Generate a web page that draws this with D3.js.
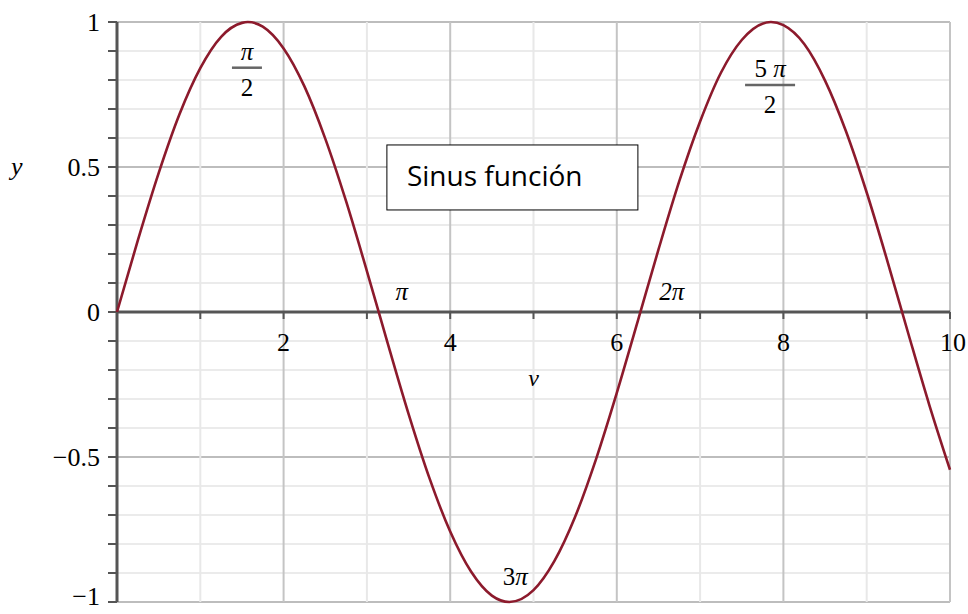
<!DOCTYPE html>
<html>
<head>
<meta charset="utf-8">
<script src="https://cdn.jsdelivr.net/npm/d3@7"></script>
<style>
  body { margin: 0; background: #fff; }
  svg { display: block; }
</style>
</head>
<body>
<div id="chart"></div>
<script>
// values (v, y)
const vValues = [0, 0.25, 0.5, 0.75, 1, 1.25, 1.5, 1.57, 1.75, 2, 2.25, 2.5, 2.75, 3, 3.25, 3.5, 3.75, 4, 4.25, 4.5, 4.71, 5, 5.25, 5.5, 5.75, 6, 6.25, 6.5, 6.75, 7, 7.25, 7.5, 7.85, 8, 8.25, 8.5, 8.75, 9, 9.25, 9.5, 9.75, 10];
const yValues = [0, 0.247, 0.479, 0.682, 0.841, 0.949, 0.997, 1.0, 0.984, 0.909, 0.778, 0.598, 0.382, 0.141, -0.108, -0.351, -0.572, -0.757, -0.895, -0.978, -1.0, -0.959, -0.859, -0.706, -0.508, -0.279, -0.033, 0.215, 0.451, 0.657, 0.825, 0.938, 1.0, 0.989, 0.924, 0.798, 0.624, 0.412, 0.174, -0.075, -0.319, -0.544];
const xTicks = [2, 4, 6, 8, 10];
const yTicks = [-1, -0.5, 0, 0.5, 1];
const yTickLabels = ["\u22121", "\u22120.5", "0", "0.5", "1"];
// annotations: [v, y, upright part, italic part]
const simpleLabels = [[3.42, 0.04, "", "\u03c0"], [6.66, 0.04, "", "2\u03c0"], [4.78, -0.94, "3", "\u03c0"]];
const fractionLabels = [[1.56, 0.87, "", "\u03c0", "2"], [7.84, 0.81, "5 ", "\u03c0", "2"]];

const margin = { top: 22, right: 18, bottom: 12, left: 117 };
const width = 968 - margin.left - margin.right;
const height = 614 - margin.top - margin.bottom;

const svg = d3.select("#chart")
    .append("svg")
    .attr("width", 968)
    .attr("height", 614)
    .append("g")
    .attr("transform", `translate(${margin.left},${margin.top})`);

const x = d3.scaleLinear().domain([0, 10]).range([0, width]);
const y = d3.scaleLinear().domain([-1, 1]).range([height, 0]);

const serif = "'Liberation Serif', 'Times New Roman', serif";

// grid
const grid = svg.append("g");
grid.selectAll(".ygrid")
    .data(d3.range(-10, 11).map(d => d / 10))
    .enter().append("line")
    .attr("x1", 0).attr("x2", width)
    .attr("y1", d => y(d)).attr("y2", d => y(d))
    .attr("stroke", d => Math.abs(Math.round(d * 10)) % 5 === 0 ? "#bdbdbd" : "#ebebeb")
    .attr("stroke-width", 2);
grid.selectAll(".xgrid")
    .data(d3.range(1, 11))
    .enter().append("line")
    .attr("x1", d => x(d)).attr("x2", d => x(d))
    .attr("y1", 0).attr("y2", height)
    .attr("stroke", d => d % 2 === 0 ? "#c4c4c4" : "#e8e8e8")
    .attr("stroke-width", 2);

// axes
svg.append("line")
    .attr("x1", 0).attr("x2", 0).attr("y1", 0).attr("y2", height)
    .attr("stroke", "#555").attr("stroke-width", 3);
svg.append("line")
    .attr("x1", 0).attr("x2", width).attr("y1", y(0)).attr("y2", y(0))
    .attr("stroke", "#555").attr("stroke-width", 3);

svg.selectAll(".ytick")
    .data(d3.range(-10, 11).map(d => d / 10))
    .enter().append("line")
    .attr("x1", -9).attr("x2", 0)
    .attr("y1", d => y(d)).attr("y2", d => y(d))
    .attr("stroke", "#555").attr("stroke-width", 2);
svg.selectAll(".xtick")
    .data(d3.range(1, 11))
    .enter().append("line")
    .attr("x1", d => x(d)).attr("x2", d => x(d))
    .attr("y1", y(0)).attr("y2", y(0) + 7)
    .attr("stroke", "#555").attr("stroke-width", 2);

// tick labels (bottom one nudged up so it stays inside the page)
svg.selectAll(".ylab")
    .data(yTicks)
    .enter().append("text")
    .attr("x", -17)
    .attr("y", d => y(d) - (d === -1 ? 6 : 0))
    .attr("dy", "0.35em")
    .attr("text-anchor", "end")
    .style("font-family", serif)
    .style("font-size", "26px")
    .text((d, i) => yTickLabels[i]);

svg.selectAll(".xlab")
    .data(xTicks)
    .enter().append("text")
    .attr("x", d => x(d) + (d === 10 ? 3 : 0))
    .attr("y", y(0) + 39)
    .attr("text-anchor", "middle")
    .style("font-family", serif)
    .style("font-size", "26px")
    .text(d => d);

// axis titles
svg.append("text")
    .attr("x", -106).attr("y", y(0.5) + 8)
    .style("font-family", serif).style("font-style", "italic").style("font-size", "26px")
    .text("y");
svg.append("text")
    .attr("x", x(5)).attr("y", y(0) + 74)
    .attr("text-anchor", "middle")
    .style("font-family", serif).style("font-style", "italic").style("font-size", "24px")
    .text("v");

// curve
const points = vValues.map((v, i) => [v, yValues[i]]);
const line = d3.line()
    .x(d => x(d[0]))
    .y(d => y(d[1]))
    .curve(d3.curveMonotoneX);

svg.append("path")
    .datum(points)
    .attr("fill", "none")
    .attr("stroke", "#8c1a2c")
    .attr("stroke-width", 2.6)
    .attr("d", line);

// pi labels
const plab = svg.selectAll(".plab")
    .data(simpleLabels)
    .enter().append("text")
    .attr("x", d => x(d[0]))
    .attr("y", d => y(d[1]))
    .attr("text-anchor", "middle")
    .style("font-family", serif)
    .style("font-size", "25px");
plab.append("tspan").text(d => d[2]);
plab.append("tspan").style("font-style", "italic").text(d => d[3]);

const frac = svg.selectAll(".frac")
    .data(fractionLabels)
    .enter().append("g")
    .attr("transform", d => `translate(${x(d[0])},${y(d[1])})`);
const num = frac.append("text")
    .attr("y", 0)
    .attr("text-anchor", "middle")
    .style("font-family", serif).style("font-size", "25px");
num.append("tspan").text(d => d[2]);
num.append("tspan").style("font-style", "italic").text(d => d[3]);
frac.append("line")
    .attr("x1", d => d[2] ? -25 : -15)
    .attr("x2", d => d[2] ? 25 : 15)
    .attr("y1", 8).attr("y2", 8)
    .attr("stroke", "#666").attr("stroke-width", 2.5);
frac.append("text")
    .attr("y", 36)
    .attr("text-anchor", "middle")
    .style("font-family", serif).style("font-size", "25px")
    .text(d => d[4]);

// text box
const box = svg.append("g").attr("transform", `translate(${x(3.24)},${y(0.576)})`);
box.append("rect")
    .attr("width", 251).attr("height", 65)
    .attr("fill", "#fff").attr("stroke", "#000").attr("stroke-width", 1);
box.append("text")
    .attr("x", 20).attr("y", 41)
    .style("font-family", "'Open Sans', 'Liberation Sans', sans-serif")
    .style("font-size", "28px")
    .text("Sinus función");
</script>
</body>
</html>
